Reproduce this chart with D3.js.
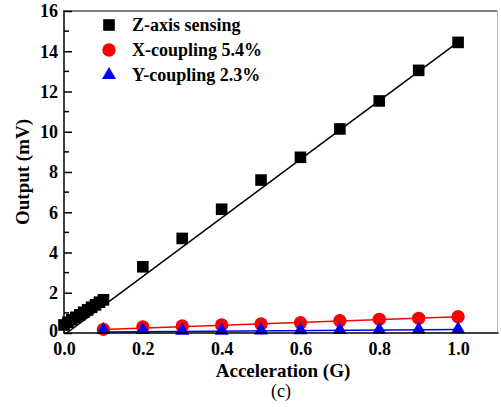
<!DOCTYPE html>
<html><head><meta charset="utf-8">
<script src="https://cdn.jsdelivr.net/npm/d3@7"></script>
<style>
html,body{margin:0;padding:0;background:#fff;}
svg{display:block;}
</style></head>
<body>
<svg id="c" width="501" height="407"></svg>
<script>
// ---- data ----
const zX = [0,0.01,0.02,0.03,0.04,0.05,0.06,0.07,0.08,0.09,0.1,0.2,0.3,0.4,0.5,0.6,0.7,0.8,0.9,1.0];
const zY = [0.4,0.53,0.66,0.78,0.9,1.03,1.15,1.28,1.4,1.53,1.65,3.29,4.70,6.15,7.6,8.73,10.14,11.53,13.05,14.44];
const xcX = [0.1,0.2,0.3,0.4,0.5,0.6,0.7,0.8,0.9,1.0];
const xcY = [0.18,0.30,0.35,0.40,0.45,0.51,0.61,0.68,0.73,0.81];
const ycX = [0.1,0.2,0.3,0.4,0.5,0.6,0.7,0.8,0.9,1.0];
const ycY = [0.15,0.15,0.12,0.12,0.13,0.14,0.15,0.16,0.17,0.19];
const zFit = [[0,-0.1],[1.0,14.45]];
const xcFit = [[0.1,0.17],[1.0,0.81]];
const ycFit = [[0.1,0.05],[1.0,0.18]];
const xTicks = [0,0.2,0.4,0.6,0.8,1.0];
const xTickLabels = ["0.0","0.2","0.4","0.6","0.8","1.0"];
const yTicks = [0,2,4,6,8,10,12,14,16];
const legendLabels = ["Z-axis sensing","X-coupling 5.4%","Y-coupling 2.3%"];
const colors = ["#000000","#ff0000","#0000ff"];

// ---- drawing ----
const FONT = "'Liberation Serif', 'Times New Roman', Times, serif";
const svg = d3.select("#c");
const L=64, R=497.5, T=11, B=333;
const x = d3.scaleLinear().domain([0,1.1]).range([L,R]);
const y = d3.scaleLinear().domain([0,16]).range([B,T]);

svg.append("defs").append("clipPath").attr("id","clip")
  .append("rect").attr("x",L).attr("y",T).attr("width",R-L).attr("height",B-T);

// frame top/right
svg.append("line").attr("x1",L).attr("x2",R).attr("y1",T).attr("y2",T).attr("stroke","#555").attr("stroke-width",1.5);
svg.append("line").attr("x1",R).attr("x2",R).attr("y1",T).attr("y2",B).attr("stroke","#bbb").attr("stroke-width",1);

// left axis
const yAxis = d3.axisLeft(y).tickValues(yTicks).tickSize(-8).tickPadding(6).tickFormat(d3.format("d"));
const gy = svg.append("g").attr("transform",`translate(${L},0)`).call(yAxis);
gy.attr("font-family",null);
gy.select(".domain").remove();
gy.selectAll(".tick line").attr("stroke","#000").attr("stroke-width",1.5);
gy.selectAll("text").style("font-family",FONT).style("font-size","18px").style("font-weight","bold").attr("fill","#000");
gy.selectAll(".tick").filter(d=>d===0).select("text").attr("dy","0.2em");
const yMinor = d3.range(1,16,2);
svg.append("g").selectAll("line").data(yMinor).join("line")
  .attr("x1",L).attr("x2",L+5).attr("y1",d=>y(d)).attr("y2",d=>y(d))
  .attr("stroke","#000").attr("stroke-width",1.5);

// bottom axis
const xAxis = d3.axisBottom(x).tickValues(xTicks).tickSize(-8).tickPadding(9)
  .tickFormat((d,i)=>xTickLabels[i]);
const gx = svg.append("g").attr("transform",`translate(0,${B})`).call(xAxis);
gx.attr("font-family",null);
gx.select(".domain").remove();
gx.selectAll(".tick line").attr("stroke","#000").attr("stroke-width",1.5);
gx.selectAll("text").style("font-family",FONT).style("font-size","18px").style("font-weight","bold").attr("fill","#000");
const xMinor = [0.1,0.3,0.5,0.7,0.9];
svg.append("g").selectAll("line").data(xMinor).join("line")
  .attr("x1",d=>x(d)).attr("x2",d=>x(d)).attr("y1",B).attr("y2",B-5)
  .attr("stroke","#000").attr("stroke-width",1.5);

// fit lines
const line = d3.line().x(d=>x(d[0])).y(d=>y(d[1]));
const plot = svg.append("g").attr("clip-path","url(#clip)");
plot.append("path").datum(zFit).attr("d",line).attr("stroke","#000").attr("stroke-width",1.5).attr("fill","none");
plot.append("path").datum(xcFit).attr("d",line).attr("stroke","#ff0000").attr("stroke-width",1.5).attr("fill","none");
plot.append("path").datum(ycFit).attr("d",line).attr("stroke","#0000ff").attr("stroke-width",1.5).attr("fill","none");

// markers
const sq = d3.symbol().type(d3.symbolSquare).size(135);
const ci = d3.symbol().type(d3.symbolCircle).size(140);
const tr = d3.symbol().type(d3.symbolTriangle).size(85);
const mk = svg.append("g");
mk.selectAll(".z").data(zX.map((d,i)=>[d,zY[i]])).join("path").attr("class","z")
  .attr("d",sq).attr("transform",d=>`translate(${x(d[0])},${y(d[1])})`).attr("fill",colors[0]);
mk.selectAll(".xc").data(xcX.map((d,i)=>[d,xcY[i]])).join("path").attr("class","xc")
  .attr("d",ci).attr("transform",d=>`translate(${x(d[0])},${y(d[1])})`).attr("fill",colors[1]);
mk.selectAll(".yc").data(ycX.map((d,i)=>[d,ycY[i]])).join("path").attr("class","yc")
  .attr("d",tr).attr("transform",d=>`translate(${x(d[0])},${y(d[1])})`).attr("fill",colors[2]);

// bottom and left axis lines on top
svg.append("line").attr("x1",L).attr("x2",R+1).attr("y1",B).attr("y2",B).attr("stroke","#000").attr("stroke-width",1.5);
svg.append("line").attr("x1",L).attr("x2",L).attr("y1",T-0.75).attr("y2",B+0.75).attr("stroke","#000").attr("stroke-width",1.5);

// legend
const shapes = [sq, ci, tr];
const lg = svg.append("g");
legendLabels.forEach((lab,i)=>{
  const yy = 25 + i*25;
  lg.append("path").attr("d",shapes[i]).attr("transform",`translate(109,${yy})`).attr("fill",colors[i]);
  lg.append("text").attr("x",132).attr("y",yy+6)
    .style("font-family",FONT).style("font-size","18px").style("font-weight","bold")
    .attr("fill","#000").text(lab);
});

// titles
svg.append("text").attr("x",283).attr("y",377).attr("text-anchor","middle")
  .style("font-family",FONT).style("font-size","19px").style("font-weight","bold").text("Acceleration (G)");
svg.append("text").attr("transform","translate(29,172) rotate(-90)").attr("text-anchor","middle")
  .style("font-family",FONT).style("font-size","19px").style("font-weight","bold").text("Output (mV)");
svg.append("text").attr("x",281).attr("y",397).attr("text-anchor","middle")
  .style("font-family",FONT).style("font-size","18px").text("(c)");
</script>
</body></html>
